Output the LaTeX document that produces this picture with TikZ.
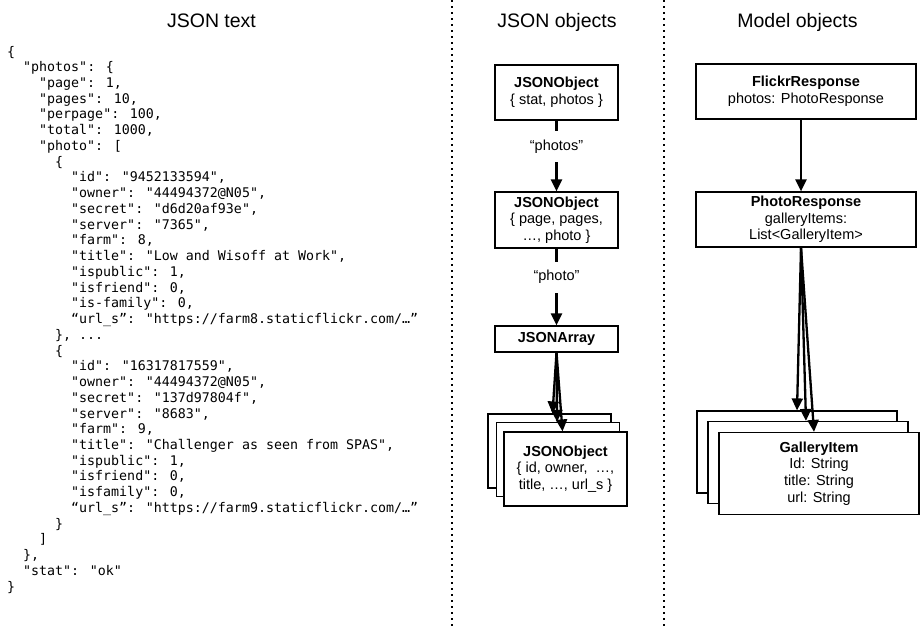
\documentclass[tikz,border=0pt]{standalone}
\usepackage{fontspec}
\setmainfont{Liberation Sans}
\newfontfamily\jsonfont{DejaVu Sans Mono}
\usetikzlibrary{arrows.meta}

\newcommand\headfont{\fontsize{19.5}{22}\selectfont}
\newcommand\boxfont{\fontsize{14.5}{16.7}\selectfont}
\newcommand\codefont{\jsonfont\fontsize{13.3}{15.7}\selectfont}

\begin{document}
\begin{tikzpicture}[
    x=1pt, y=-1pt,
    every node/.append style = {inner sep=0pt},
    objbox/.style = {draw, line width=1.2pt, fill=white, align=center, font=\boxfont},
    link/.style = {line width=2.3pt, -{Triangle[length=12pt,width=11pt]}},
    keylabel/.style = {fill=white, minimum height=31pt, font=\boxfont},
    colsep/.style = {line width=1.5pt, dash pattern=on 1.5pt off 4.5pt},
    code/.style = {anchor=base west, font=\codefont},
    header/.style = {anchor=base, font=\headfont}
  ]
  \useasboundingbox (0,0) rectangle (920,632);

  % column headers
  \node[header] (texthead) at (211.5,27) {JSON text};
  \node[header] (objhead) at (557,27) {JSON objects};
  \node[header] (modelhead) at (797.5,27) {Model objects};

  % column separators
  \draw[colsep] (452,0) -- (452,630);
  \draw[colsep] (664,0) -- (664,630);

  % the raw json
  \foreach \lvl/\txt [count=\i from 0] in {
      0/{\{},
      2/{"photos": \{},
      4/{"page": 1,},
      4/{"pages": 10,},
      4/{"perpage": 100,},
      4/{"total": 1000,},
      4/{"photo": [},
      6/{\{},
      8/{"id": "9452133594",},
      8/{"owner": "44494372@N05",},
      8/{"secret": "d6d20af93e",},
      8/{"server": "7365",},
      8/{"farm": 8,},
      8/{"title": "Low and Wisoff at Work",},
      8/{"ispublic": 1,},
      8/{"isfriend": 0,},
      8/{"is-family": 0,},
      8/{“url\_s”: "https://farm8.staticflickr.com/…”},
      6/{\}, ...},
      6/{\{},
      8/{"id": "16317817559",},
      8/{"owner": "44494372@N05",},
      8/{"secret": "137d97804f",},
      8/{"server": "8683",},
      8/{"farm": 9,},
      8/{"title": "Challenger as seen from SPAS",},
      8/{"ispublic": 1,},
      8/{"isfriend": 0,},
      8/{"isfamily": 0,},
      8/{“url\_s”: "https://farm9.staticflickr.com/…”},
      6/{\}},
      4/{]},
      2/{\},},
      2/{"stat": "ok"},
      0/{\}}
    }
    \node[code] (json\i) at ({7+8*\lvl},{56+15.74*\i}) {\txt};

  % json objects
  \node[objbox, minimum width=123pt, minimum height=55pt] (obj1) at (556.5,92.5)
    {\textbf{JSONObject}\\\{ stat, photos \}};
  \node[objbox, minimum width=123pt, minimum height=56pt] (obj2) at (556.5,220)
    {\textbf{JSONObject}\\\{ page, pages,\\…, photo \}};
  \node[objbox, minimum width=123pt, minimum height=26pt] (arr) at (556.5,339)
    {\textbf{JSONArray}};
  \node[objbox, minimum width=123pt, minimum height=74pt] (item1) at (549.5,451) {};
  \node[objbox, minimum width=123pt, minimum height=74pt] (item2) at (558,459.5) {};
  \node[objbox, minimum width=123pt, minimum height=74pt] (item3) at (565.5,469)
    {\textbf{JSONObject}\\\{ id, owner,\ \ …,\\title, …, url\_s \}};

  \draw[link] (obj1) -- node[keylabel, pos=.37] (photoskey) {“photos”} (obj2);
  \draw[link] (obj2) -- node[keylabel, pos=.37] (photokey) {“photo”} (arr);
  \draw[link] (arr.south) -- ([xshift=3pt]item1.north);
  \draw[link] (arr.south) -- ([xshift=-1pt]item2.north);
  \draw[link] (arr.south) -- ([xshift=-3pt]item3.north);

  % model objects
  \node[objbox, minimum width=220pt, minimum height=55pt] (flickr) at (806,91.5)
    {\textbf{FlickrResponse}\\photos: PhotoResponse};
  \node[objbox, minimum width=220pt, minimum height=55pt] (photoresp) at (806,219.5)
    {\textbf{PhotoResponse}\\galleryItems:\\List<GalleryItem>};
  \node[objbox, minimum width=200pt, minimum height=82pt] (gitem1) at (797,452) {};
  \node[objbox, minimum width=200pt, minimum height=82pt] (gitem2) at (808,462.5) {};
  \node[objbox, minimum width=200pt, minimum height=82pt] (gitem3) at (819,473.5)
    {\textbf{GalleryItem}\\Id: String\\title: String\\url: String};

  \draw[link] ([xshift=-5pt]flickr.south) -- ([xshift=-5pt]photoresp.north);
  \draw[link] ([xshift=-5pt]photoresp.south) -- (gitem1.north);
  \draw[link] ([xshift=-5pt]photoresp.south) -- ([xshift=-2pt]gitem2.north);
  \draw[link] ([xshift=-5pt]photoresp.south) -- ([xshift=-5pt]gitem3.north);
\end{tikzpicture}
\end{document}
